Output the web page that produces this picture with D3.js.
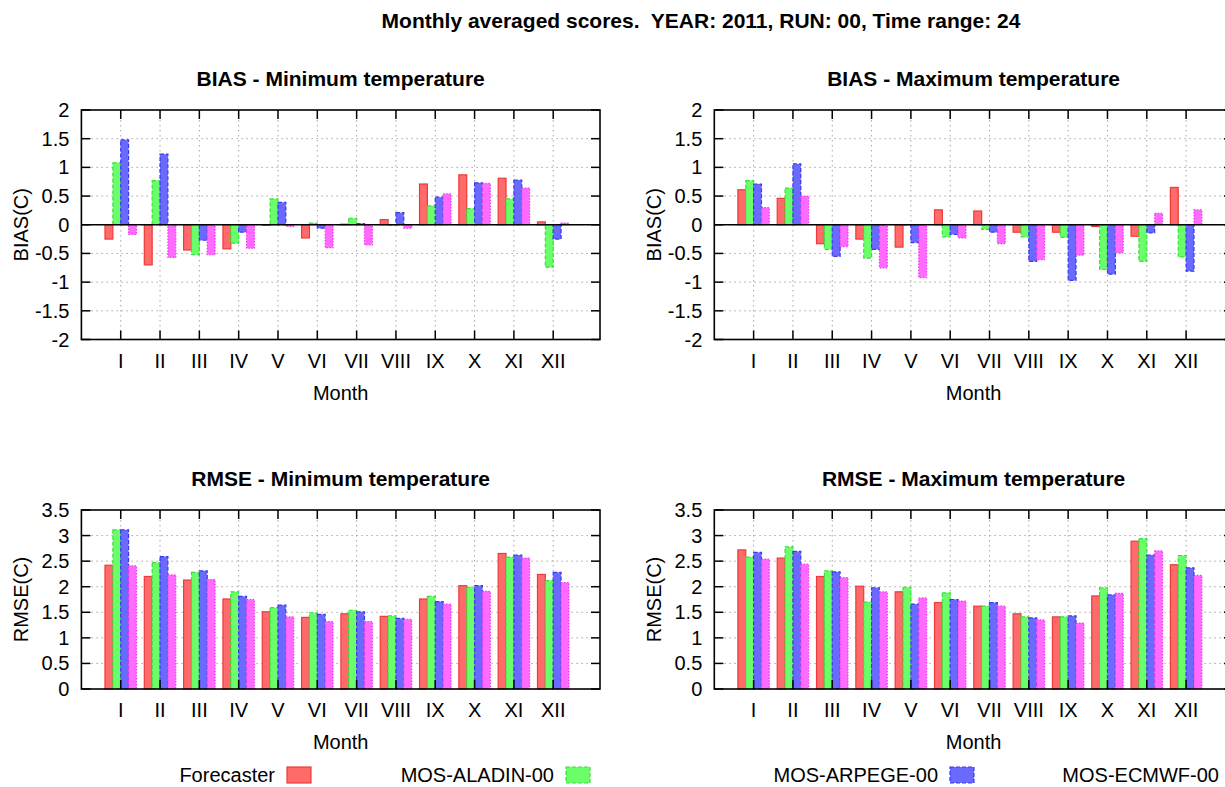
<!DOCTYPE html>
<html>
<head>
<meta charset="utf-8">
<script src="https://cdn.jsdelivr.net/npm/d3@7"></script>
<style>
  body { margin: 0; background: #fff; }
  svg { display: block; }
  text { font-family: "Liberation Sans", Arial, sans-serif; fill: #000; }
</style>
</head>
<body>
<svg id="chart" width="1225" height="787"></svg>
<script>
// ---- data ----
const months = ["I", "II", "III", "IV", "V", "VI", "VII", "VIII", "IX", "X", "XI", "XII"];
const seriesNames = ["Forecaster", "MOS-ALADIN-00", "MOS-ARPEGE-00", "MOS-ECMWF-00"];
const biasTicks = [-2, -1.5, -1, -0.5, 0, 0.5, 1, 1.5, 2];
const rmseTicks = [0, 0.5, 1, 1.5, 2, 2.5, 3, 3.5];

// one row per series: Forecaster, ALADIN, ARPEGE, ECMWF
const biasMin = [
  [-0.25, -0.70, -0.44, -0.42, -0.01, -0.23, 0.01, 0.09, 0.71, 0.87, 0.81, 0.05],
  [1.08, 0.77, -0.52, -0.32, 0.45, 0.03, 0.11, -0.01, 0.33, 0.28, 0.45, -0.74],
  [1.48, 1.23, -0.27, -0.13, 0.39, -0.06, 0.02, 0.21, 0.48, 0.73, 0.78, -0.25],
  [-0.17, -0.57, -0.52, -0.41, -0.03, -0.40, -0.35, -0.06, 0.54, 0.72, 0.64, 0.03]
];
const biasMax = [
  [0.61, 0.46, -0.33, -0.25, -0.39, 0.26, 0.24, -0.13, -0.13, -0.03, -0.20, 0.65],
  [0.77, 0.64, -0.43, -0.58, -0.01, -0.21, -0.08, -0.21, -0.22, -0.78, -0.64, -0.56],
  [0.71, 1.06, -0.55, -0.43, -0.31, -0.17, -0.13, -0.64, -0.97, -0.86, -0.14, -0.81],
  [0.30, 0.50, -0.38, -0.75, -0.92, -0.23, -0.33, -0.61, -0.53, -0.49, 0.20, 0.26]
];
const rmseMin = [
  [2.42, 2.20, 2.13, 1.76, 1.51, 1.40, 1.47, 1.42, 1.76, 2.02, 2.65, 2.24],
  [3.11, 2.47, 2.28, 1.90, 1.59, 1.49, 1.54, 1.43, 1.81, 1.99, 2.58, 2.12],
  [3.11, 2.59, 2.31, 1.81, 1.64, 1.46, 1.51, 1.38, 1.71, 2.02, 2.62, 2.28],
  [2.41, 2.23, 2.14, 1.75, 1.41, 1.32, 1.32, 1.36, 1.66, 1.91, 2.56, 2.08]
];
const rmseMax = [
  [2.72, 2.56, 2.20, 2.01, 1.90, 1.69, 1.62, 1.47, 1.41, 1.82, 2.89, 2.43],
  [2.58, 2.78, 2.31, 1.70, 1.99, 1.88, 1.62, 1.41, 1.41, 1.98, 2.94, 2.61],
  [2.67, 2.69, 2.29, 1.98, 1.66, 1.75, 1.69, 1.39, 1.43, 1.84, 2.62, 2.37],
  [2.54, 2.44, 2.18, 1.90, 1.78, 1.72, 1.62, 1.35, 1.29, 1.87, 2.70, 2.22]
];

// ---- styles ----
const fills = ["#ff6a6a", "#6aff6a", "#6a6aff", "#ff6aff"];
const strokes = ["#f03a3a", "#3ae03a", "#3a3af0", "#f03af0"];
const dashes = [null, "4,2", "4,2", "1.5,1.5"];
const FONT = 20;
const TITLE_FONT = 21;

const svg = d3.select("#chart");

svg.append("text")
  .attr("x", 701).attr("y", 20)
  .attr("text-anchor", "middle").attr("dominant-baseline", "central")
  .attr("xml:space", "preserve")
  .style("font-size", TITLE_FONT + "px").style("font-weight", "bold")
  .text("Monthly averaged scores.  YEAR: 2011, RUN: 00, Time range: 24");

const panels = [
  { title: "BIAS - Minimum temperature", ylab: "BIAS(C)", data: biasMin, ticks: biasTicks, left: 81.4, top: 110, bottom: 339.5 },
  { title: "BIAS - Maximum temperature", ylab: "BIAS(C)", data: biasMax, ticks: biasTicks, left: 714.3, top: 110, bottom: 339.5 },
  { title: "RMSE - Minimum temperature", ylab: "RMSE(C)", data: rmseMin, ticks: rmseTicks, left: 81.4, top: 510, bottom: 689 },
  { title: "RMSE - Maximum temperature", ylab: "RMSE(C)", data: rmseMax, ticks: rmseTicks, left: 714.3, top: 510, bottom: 689 }
];

const plotW = 518.6;
const barW = 0.2; // width of one bar in month units (4 bars + gap)

panels.forEach(function (p) {
  const x = d3.scaleLinear().domain([-1, 12.19]).range([p.left, p.left + plotW]);
  const y = d3.scaleLinear().domain(d3.extent(p.ticks)).range([p.bottom, p.top]);
  const right = p.left + plotW;
  const cx = p.left + plotW / 2;
  const g = svg.append("g");

  // grid
  g.selectAll(".hgrid").data(p.ticks.slice(1, -1)).enter().append("line")
    .attr("x1", p.left).attr("x2", right)
    .attr("y1", d => y(d)).attr("y2", d => y(d))
    .attr("stroke", "#a8a8a8").attr("stroke-width", 1).attr("stroke-dasharray", "1.5,3.5");
  g.selectAll(".vgrid").data(months).enter().append("line")
    .attr("x1", (d, i) => x(i)).attr("x2", (d, i) => x(i))
    .attr("y1", p.top).attr("y2", p.bottom)
    .attr("stroke", "#a8a8a8").attr("stroke-width", 1).attr("stroke-dasharray", "1.5,3.5");

  // bars
  p.data.forEach(function (vals, s) {
    g.selectAll(".bar" + s).data(vals).enter().append("rect")
      .attr("x", (d, i) => x(i + (s - 2) * barW))
      .attr("width", x(barW) - x(0))
      .attr("y", d => Math.min(y(d), y(0)))
      .attr("height", d => Math.abs(y(d) - y(0)))
      .attr("fill", fills[s])
      .attr("stroke", strokes[s]).attr("stroke-width", 1.2)
      .attr("stroke-dasharray", dashes[s]);
  });

  // zero axis
  if (p.ticks[0] < 0) {
    g.append("line").attr("x1", p.left).attr("x2", right)
      .attr("y1", y(0)).attr("y2", y(0))
      .attr("stroke", "#000").attr("stroke-width", 1.5);
  }

  // border
  g.append("rect").attr("x", p.left).attr("y", p.top)
    .attr("width", plotW).attr("height", p.bottom - p.top)
    .attr("fill", "none").attr("stroke", "#000").attr("stroke-width", 1.6);

  // tics (inward, mirrored)
  const tk = 9;
  p.ticks.forEach(function (d) {
    g.append("line").attr("x1", p.left).attr("x2", p.left + tk).attr("y1", y(d)).attr("y2", y(d)).attr("stroke", "#000").attr("stroke-width", 1.5);
    g.append("line").attr("x1", right - tk).attr("x2", right).attr("y1", y(d)).attr("y2", y(d)).attr("stroke", "#000").attr("stroke-width", 1.5);
  });
  months.forEach(function (m, i) {
    g.append("line").attr("x1", x(i)).attr("x2", x(i)).attr("y1", p.bottom).attr("y2", p.bottom - tk).attr("stroke", "#000").attr("stroke-width", 1.5);
    g.append("line").attr("x1", x(i)).attr("x2", x(i)).attr("y1", p.top).attr("y2", p.top + tk).attr("stroke", "#000").attr("stroke-width", 1.5);
  });

  // tick labels
  g.selectAll(".ylab").data(p.ticks).enter().append("text")
    .attr("x", p.left - 12).attr("y", d => y(d))
    .attr("text-anchor", "end").attr("dominant-baseline", "central")
    .style("font-size", FONT + "px")
    .text(d => String(d));
  g.selectAll(".xlab").data(months).enter().append("text")
    .attr("x", (d, i) => x(i)).attr("y", p.bottom + 21)
    .attr("text-anchor", "middle").attr("dominant-baseline", "central")
    .style("font-size", FONT + "px")
    .text(d => d);

  // axis titles
  g.append("text").attr("x", cx).attr("y", p.bottom + 53)
    .attr("text-anchor", "middle").attr("dominant-baseline", "central")
    .style("font-size", FONT + "px").text("Month");
  g.append("text")
    .attr("transform", "translate(" + (p.left - 60) + "," + ((p.top + p.bottom) / 2) + ") rotate(-90)")
    .attr("text-anchor", "middle").attr("dominant-baseline", "central")
    .style("font-size", FONT + "px").text(p.ylab);

  g.append("text").attr("x", cx).attr("y", p.top - 32)
    .attr("text-anchor", "middle").attr("dominant-baseline", "central")
    .style("font-size", TITLE_FONT + "px").style("font-weight", "bold").text(p.title);
});

// legend
const legendTextEnd = [275, 554, 938, 1219];
const legendY = 775;
seriesNames.forEach(function (name, s) {
  svg.append("text").attr("x", legendTextEnd[s]).attr("y", legendY)
    .attr("text-anchor", "end").attr("dominant-baseline", "central")
    .style("font-size", FONT + "px").text(name);
  svg.append("rect").attr("x", legendTextEnd[s] + 12).attr("y", legendY - 8)
    .attr("width", 24).attr("height", 16)
    .attr("fill", fills[s]).attr("stroke", strokes[s]).attr("stroke-width", 1.2)
    .attr("stroke-dasharray", dashes[s]);
});
</script>
</body>
</html>
